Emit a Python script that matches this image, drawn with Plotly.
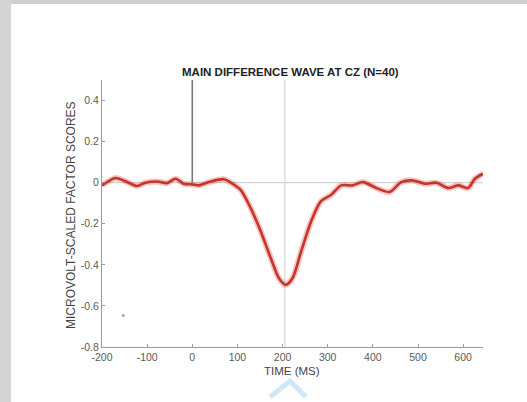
import plotly.graph_objects as go

time_ms = [-200, -170, -152, -122, -104, -78, -56, -37, -19, 0, 15, 37, 70, 89, 107, 130,
           152, 174, 192, 207, 222, 241, 263, 285, 307, 330, 355, 378, 411, 437, 463,
           489, 515, 541, 567, 589, 611, 626, 644]
amplitude = [-0.013, 0.023, 0.011, -0.016, 0.0, 0.006, -0.002, 0.019, -0.005, -0.008, -0.013,
             0.003, 0.017, -0.005, -0.035, -0.126, -0.239, -0.368, -0.465, -0.497, -0.465,
             -0.336, -0.19, -0.09, -0.06, -0.013, -0.013, 0.003, -0.029, -0.045, 0.003,
             0.011, -0.005, 0.0, -0.026, -0.013, -0.026, 0.019, 0.044]
stray_x = [-153]
stray_y = [-0.647]
x_ticks = [-200, -100, 0, 100, 200, 300, 400, 500, 600]
x_tick_text = ["-200", "-100", "0", "100", "200", "300", "400", "500", "600"]
y_ticks = [-0.8, -0.6, -0.4, -0.2, 0, 0.2, 0.4]
y_tick_text = ["-0.8", "-0.6", "-0.4", "-0.2", "0", "0.2", "0.4"]
title_text = "MAIN DIFFERENCE WAVE AT CZ (N=40)"
x_title = "TIME (MS)"
y_title = "MICROVOLT-SCALED FACTOR SCORES"

X_RANGE = [-200, 644]
Y_RANGE = [-0.8, 0.5]

fig = go.Figure()

# reference lines
fig.add_trace(go.Scatter(x=[X_RANGE[0], X_RANGE[1]], y=[0, 0], mode="lines",
                         line=dict(color="#d2d2d2", width=1.2), hoverinfo="skip", showlegend=False))
fig.add_trace(go.Scatter(x=[205, 205], y=[Y_RANGE[0], Y_RANGE[1]], mode="lines",
                         line=dict(color="#d6d6d6", width=1.2), hoverinfo="skip", showlegend=False))
fig.add_trace(go.Scatter(x=[0, 0], y=[0, Y_RANGE[1]], mode="lines",
                         line=dict(color="#7a7a7a", width=1.6), hoverinfo="skip", showlegend=False))

# glow + wave
fig.add_trace(go.Scatter(x=time_ms, y=amplitude, mode="lines",
                         line=dict(color="rgba(225,90,80,0.35)", width=6, shape="spline", smoothing=0.8),
                         hoverinfo="skip", showlegend=False))
fig.add_trace(go.Scatter(x=time_ms, y=amplitude, mode="lines",
                         line=dict(color="#c5352b", width=2.6, shape="spline", smoothing=0.8),
                         showlegend=False))
fig.add_trace(go.Scatter(x=stray_x, y=stray_y, mode="markers",
                         marker=dict(color="#a8a8a8", size=3), showlegend=False))

L, R, T, B = 102, 44, 80, 55
W, H = 527, 402
pw, ph = W - L - R, H - T - B


def px(p):
    return (p - L) / pw


def py(p):
    return (H - B - p) / ph


axis_font = dict(family="Arial, Liberation Sans, sans-serif", size=10.5, color="#5a5a5a")

fig.update_layout(
    width=W, height=H,
    margin=dict(l=L, r=R, t=T, b=B),
    paper_bgcolor="white", plot_bgcolor="white",
    showlegend=False,
    xaxis=dict(range=X_RANGE, tickvals=x_ticks, ticktext=x_tick_text, showgrid=False,
               zeroline=False, showline=True, linecolor="#9a9a9a", linewidth=1.2,
               ticks="inside", ticklen=3, tickcolor="#9a9a9a", tickfont=axis_font),
    yaxis=dict(range=Y_RANGE, tickvals=y_ticks, ticktext=y_tick_text, showgrid=False,
               zeroline=False, showline=True, linecolor="#9a9a9a", linewidth=1.2,
               ticks="inside", ticklen=3, tickcolor="#9a9a9a", tickfont=axis_font),
    annotations=[
        dict(text="<b>" + title_text + "</b>", xref="paper", yref="paper", x=px(290), y=py(72),
             showarrow=False, xanchor="center", yanchor="middle",
             font=dict(family="Arial, Liberation Sans, sans-serif", size=11.5, color="#222222")),
        dict(text=x_title, xref="paper", yref="paper", x=px(292), y=py(371),
             showarrow=False, xanchor="center", yanchor="middle",
             font=dict(family="Arial, Liberation Sans, sans-serif", size=11.5, color="#444444")),
        dict(text=y_title, xref="paper", yref="paper", x=px(71), y=py(215),
             showarrow=False, xanchor="center", yanchor="middle", textangle=-90,
             font=dict(family="Arial, Liberation Sans, sans-serif", size=12, color="#444444")),
    ],
    shapes=[
        dict(type="rect", xref="paper", yref="paper", x0=px(0), x1=px(W), y0=py(4), y1=py(0),
             fillcolor="#cfcfcf", line=dict(width=0), layer="below"),
        dict(type="rect", xref="paper", yref="paper", x0=px(0), x1=px(11), y0=py(H), y1=py(0),
             fillcolor="#d4d4d4", line=dict(width=0), layer="below"),
        dict(type="path", xref="paper", yref="paper",
             path=f"M {px(270)} {py(397)} L {px(290)} {py(381)} L {px(306)} {py(397)}",
             line=dict(color="#cfe7f8", width=5)),
    ],
)

fig.write_html("out.html")
